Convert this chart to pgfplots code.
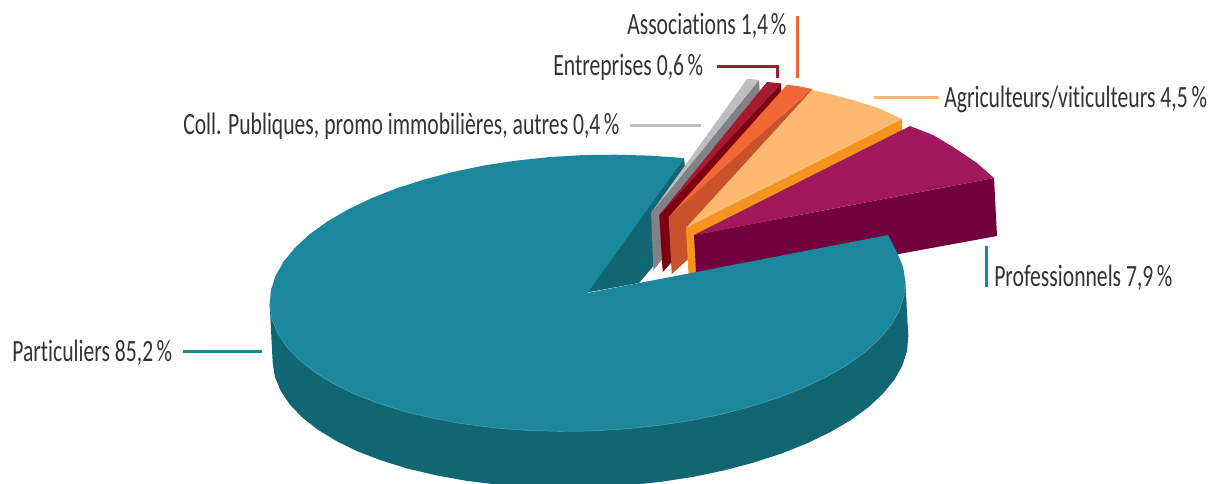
\documentclass[border=0pt]{standalone}
\usepackage{fontspec}
\usepackage{pgfplots}
\pgfplotsset{compat=1.18}
\setmainfont[FakeStretch=0.70,Ligatures={NoCommon}]{Carlito}
\definecolor{tealtop}{HTML}{1A879C}
\definecolor{tealside}{HTML}{106673}
\definecolor{tealedge}{HTML}{5CA6B3}
\definecolor{magtop}{HTML}{A0175D}
\definecolor{magside}{HTML}{72003F}
\definecolor{agritop}{HTML}{FDB96F}
\definecolor{agriside}{HTML}{F7941D}
\definecolor{assotop}{HTML}{F26736}
\definecolor{assoside}{HTML}{C8532A}
\definecolor{enttop}{HTML}{A6192E}
\definecolor{entside}{HTML}{7A0012}
\definecolor{colltop}{HTML}{BCBEC0}
\definecolor{collside}{HTML}{808285}
\definecolor{labeltext}{HTML}{333333}
\begin{document}
\begin{tikzpicture}
\begin{axis}[
  width=909pt, height=362.25pt, scale only axis,
  xmin=0, xmax=1212, ymin=0, ymax=483, y dir=reverse,
  hide axis,
  nodes={font=\fontsize{23.2pt}{26pt}\selectfont, text=labeltext, inner sep=0pt, anchor=base west},
]
% outer wall of the main slice
\addplot[fill=tealside, draw=none] coordinates {
 (269.7,304.8) (272.7,362.8) (274.9,377.0) (280.8,391.0) (289.8,404.5) (302.3,417.5) (317.9,429.7)
 (336.4,441.0) (357.7,451.4) (381.7,460.6) (407.8,468.6) (436.0,475.3) (465.9,480.7) (497.2,484.6)
 (529.4,487.1) (562.4,487.9) (595.6,487.4) (628.8,485.3) (661.6,481.7) (693.6,476.8) (724.5,470.3)
 (753.8,462.5) (781.4,453.6) (806.9,443.4) (830.1,432.2) (850.6,420.2) (868.3,407.3) (882.9,393.7)
 (894.4,379.7) (902.4,365.4) (907.1,350.8) (908.3,336.2) (905.3,281.2)
} --cycle;
% inner cut of the main slice
\addplot[fill=tealside, draw=none] coordinates {
 (587,292.5) (684,158) (685,168) (652,213) (653.5,266) (639,283)
} --cycle;
% Coll. Publiques
\addplot[fill=collside, draw=none] coordinates {(651,213) (759,80) (762,135) (653.5,270)} --cycle;
\addplot[fill=colltop, draw=none] coordinates {(651,213) (747.3,78.7) (759,80)} --cycle;
% Entreprises
\addplot[fill=entside, draw=none] coordinates {(659.3,215) (781,83.3) (784,138) (662.7,272)} --cycle;
\addplot[fill=enttop, draw=none] coordinates {(659.3,215) (767,82) (781,83.3)} --cycle;
% Associations
\addplot[fill=assoside, draw=none] coordinates {(668.7,217) (812,89) (815,144) (671.7,274)} --cycle;
\addplot[fill=assotop, draw=none] coordinates {(668.7,217) (787,84.7) (800,86.5) (812,89)} --cycle;
% Agriculteurs/viticulteurs
\addplot[fill=agriside, draw=none] coordinates {(686,228) (902,119) (902,130) (695,285) (689,283)} --cycle;
\addplot[fill=agritop, draw=none] coordinates {(686,228) (812,90) (830,94) (853,100) (878,108) (902,119)} --cycle;
% Professionnels
\addplot[fill=magside, draw=none] coordinates {(694,235) (994,178) (997,236) (697,291)} --cycle;
\addplot[fill=magtop, draw=none] coordinates {(694,235) (910,126) (933,135) (953,147) (977,163) (994,178)} --cycle;
% top face of the main slice
\addplot[fill=tealtop, draw=none] coordinates {
 (587.5,293) (684,158) (648.6,155.6) (615.6,154.7) (582.4,155.1) (549.2,157.1) (516.4,160.6) (484.4,165.4)
 (453.5,171.8) (424.2,179.5) (396.6,188.3) (371.1,198.4) (347.9,209.5) (327.4,221.4) (309.7,234.2)
 (295.1,247.7) (283.6,261.6) (275.6,275.8) (270.9,290.3) (269.7,304.8) (271.9,319.1) (277.8,333.2)
 (286.8,346.8) (299.3,359.9) (314.9,372.2) (333.4,383.6) (354.7,394.1) (378.7,403.4) (404.8,411.5)
 (433.0,418.3) (462.9,423.8) (494.2,427.8) (526.4,430.4) (559.4,431.3) (592.6,430.9) (625.8,428.9)
 (658.6,425.4) (690.6,420.6) (721.5,414.2) (750.8,406.5) (778.4,397.7) (803.9,387.6) (827.1,376.5)
 (847.6,364.6) (865.3,351.8) (879.9,338.3) (891.4,324.4) (899.4,310.2) (904.1,295.7) (905.3,281.2)
 (903.1,266.9) (897.2,252.8) (888,235)
} --cycle;
% pale rim along the front of the main slice
\addplot[draw=tealedge, line width=0.35pt] coordinates {
 (269.7,304.8) (271.9,319.1) (277.8,333.2) (286.8,346.8) (299.3,359.9) (314.9,372.2) (333.4,383.6)
 (354.7,394.1) (378.7,403.4) (404.8,411.5) (433.0,418.3) (462.9,423.8) (494.2,427.8) (526.4,430.4)
 (559.4,431.3) (592.6,430.9) (625.8,428.9) (658.6,425.4) (690.6,420.6) (721.5,414.2) (750.8,406.5)
 (778.4,397.7) (803.9,387.6) (827.1,376.5) (847.6,364.6) (865.3,351.8) (879.9,338.3) (891.4,324.4)
 (899.4,310.2) (904.1,295.7) (905.3,281.2)
};
% leader lines
\addplot[draw=tealtop, line width=2.25pt] coordinates {(183,351) (262,351)};
\addplot[draw=tealtop, line width=2.25pt] coordinates {(986,245.5) (986,286.5)};
\addplot[draw=assotop, line width=2.25pt] coordinates {(797,16) (797,78)};
\addplot[draw=enttop, line width=2.25pt, line join=miter] coordinates {(716.5,67) (777.5,67) (777.5,78)};
\addplot[draw=colltop, line width=2.25pt] coordinates {(630,126) (701,126)};
\addplot[draw=agritop, line width=2.25pt] coordinates {(874,98) (939,98)};
% labels
\node at (axis cs:12,361) {Particuliers 85,2\kern2.5pt\%};
\node at (axis cs:994,286) {Professionnels 7,9\kern2.5pt\%};
\node at (axis cs:627,35) {Associations 1,4\kern2pt\%};
\node at (axis cs:553,76) {Entreprises 0,6\kern2.5pt\%};
\node at (axis cs:183,135) {Coll. Publiques, promo immobilières, autres 0,4\kern2.5pt\%};
\node at (axis cs:944,108) {Agriculteurs/viticulteurs 4,5\kern3pt\%};
\path (axis cs:0,0) (axis cs:1212,483);
\end{axis}
\end{tikzpicture}
\end{document}
